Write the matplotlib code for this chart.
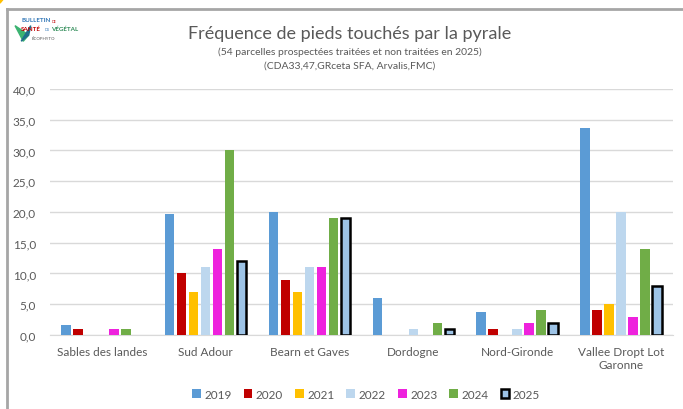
import matplotlib.pyplot as plt
import numpy as np
from matplotlib.patches import Polygon

plt.rcParams['font.family'] = ['Lato', 'DejaVu Sans']

# Data
regions = ['Sables des landes', 'Sud Adour', 'Bearn et Gaves', 'Dordogne',
           'Nord-Gironde', 'Vallee Dropt Lot\nGaronne']
years = ['2019', '2020', '2021', '2022', '2023', '2024', '2025']
v2019 = [1.7, 19.7, 20.0, 6.0, 3.7, 33.7]
v2020 = [0.9, 10.0, 9.0, 0.0, 0.9, 4.0]
v2021 = [0.0, 7.0, 7.0, 0.0, 0.0, 5.0]
v2022 = [0.0, 11.0, 11.0, 0.9, 0.9, 20.0]
v2023 = [0.9, 14.0, 11.0, 0.0, 2.0, 3.0]
v2024 = [0.9, 30.0, 19.0, 2.0, 4.0, 14.0]
v2025 = [0.0, 12.0, 19.0, 1.0, 2.0, 8.0]
series = [v2019, v2020, v2021, v2022, v2023, v2024, v2025]
colors = ['#5B9BD5', '#C00000', '#FFC000', '#BDD7EE', '#EE22DD', '#70AD47', '#9DC3E6']

grey = '#595959'

fig = plt.figure(figsize=(6.83, 4.10), dpi=100)
ax = fig.add_axes([0.0732, 0.1805, 0.912, 0.600])

x = np.arange(len(regions))
pitch = 0.1156
width = 0.092
for i, (vals, col) in enumerate(zip(series, colors)):
    offs = (i - 3) * pitch
    if years[i] == '2025':
        # black outline only where there is a bar to outline
        edges = ['black' if v > 0 else 'none' for v in vals]
        ax.bar(x + offs, vals, width, color=col, edgecolor=edges, linewidth=1.8,
               label=years[i], zorder=3)
    else:
        ax.bar(x + offs, vals, width, color=col, label=years[i], zorder=3)

ax.set_xlim(-0.5, len(regions) - 0.5)
ax.set_ylim(0, 40)
ax.set_yticks(np.arange(0, 41, 5))
ax.set_yticklabels([f'{v:.1f}'.replace('.', ',') for v in np.arange(0, 41, 5)])
ax.set_xticks(x)
ax.set_xticklabels(regions)
ax.tick_params(axis='both', length=0, labelsize=8.5, labelcolor=grey)
ax.tick_params(axis='y', pad=10)
ax.tick_params(axis='x', pad=8)
ax.grid(axis='y', color='#D9D9D9', linewidth=1, zorder=0)
for s in ['top', 'right', 'left']:
    ax.spines[s].set_visible(False)
ax.spines['bottom'].set_color('#D9D9D9')

leg = fig.legend(loc='center', bbox_to_anchor=(0.536, 0.036), ncol=7, frameon=False,
                 fontsize=8.5, handlelength=0.75, handleheight=0.75,
                 handletextpad=0.3, columnspacing=1.0)
for t in leg.get_texts():
    t.set_color(grey)
leg.legend_handles[-1].set_edgecolor('black')

# titles
fig.text(0.512, 0.918, 'Fréquence de pieds touchés par la pyrale', ha='center', va='center',
         fontsize=13, color=grey)
fig.text(0.512, 0.873, '(54 parcelles prospectées traitées et non traitées en 2025)',
         ha='center', va='center', fontsize=7.5, color=grey)
fig.text(0.512, 0.838, '(CDA33,47,GRceta SFA, Arvalis,FMC)',
         ha='center', va='center', fontsize=7.5, color=grey)

# frame lines of the screenshot
fig.add_artist(plt.Line2D([0.0105, 0.0105], [0.0, 0.976], color='#A6A6A6', linewidth=2,
                          transform=fig.transFigure))
fig.add_artist(plt.Line2D([0.0105, 1.0], [0.976, 0.976], color='#A6A6A6', linewidth=2,
                          transform=fig.transFigure))
fig.add_artist(Polygon([[0, 1], [0.005, 1], [0, 0.99]], closed=True, color='#FFC000',
                       transform=fig.transFigure))

# logo (small text approximation)
fig.text(0.031, 0.950, 'BULLETIN', fontsize=4.5, color='#2E75B6', fontweight='bold',
         ha='left', va='center')
fig.text(0.076, 0.947, 'DE', fontsize=2.5, color='#C00000', ha='left', va='center')
fig.text(0.031, 0.928, 'SANTÉ', fontsize=4.5, color='#C00000', fontweight='bold',
         ha='left', va='center')
fig.text(0.065, 0.926, 'DU', fontsize=2.5, color='#2E75B6', ha='left', va='center')
fig.text(0.074, 0.928, 'VÉGÉTAL', fontsize=4.5, color='#2E8B57', fontweight='bold',
         ha='left', va='center')
fig.text(0.046, 0.906, 'ÉCOPHYTO', fontsize=3.2, color='#555555', ha='left', va='center')
fig.add_artist(Polygon([[0.022, 0.935], [0.034, 0.897], [0.042, 0.912]], closed=True,
                       color='#3CB371', transform=fig.transFigure))
fig.add_artist(Polygon([[0.031, 0.897], [0.042, 0.912], [0.045, 0.935]], closed=True,
                       color='#1F6F8B', transform=fig.transFigure))

fig.savefig('out.png', dpi=100)
